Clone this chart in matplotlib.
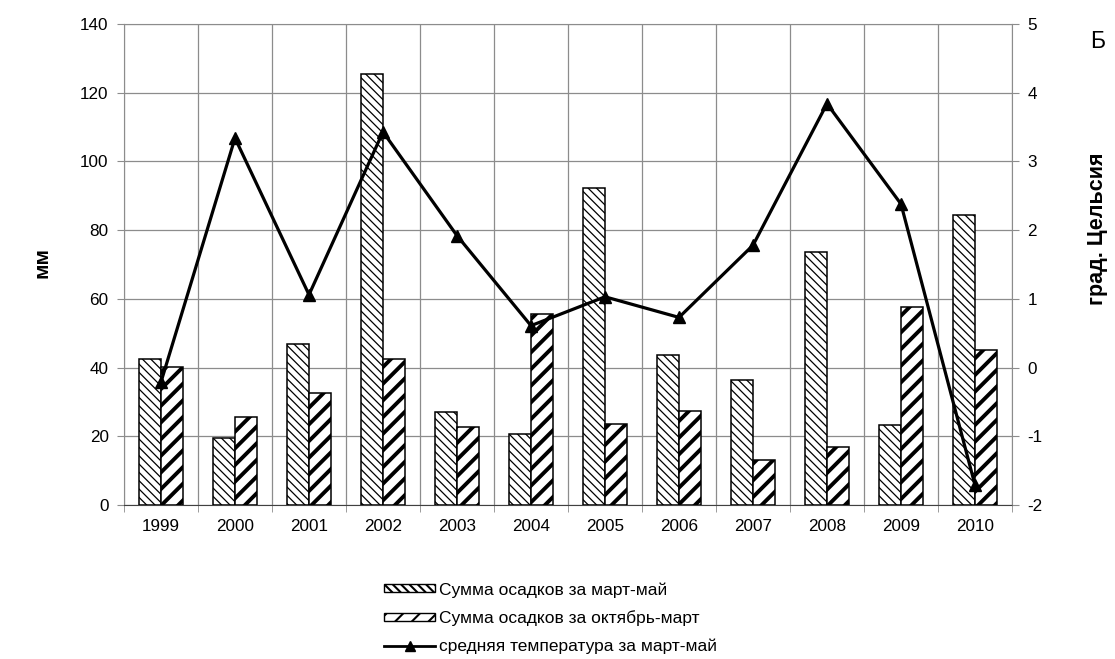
import matplotlib
matplotlib.use("Agg")
import matplotlib.pyplot as plt
import numpy as np
from matplotlib.lines import Line2D
from matplotlib.patches import Patch

plt.rcParams['font.family'] = ['Liberation Sans', 'DejaVu Sans']
plt.rcParams['axes.unicode_minus'] = False

years = ['1999', '2000', '2001', '2002', '2003', '2004', '2005', '2006',
         '2007', '2008', '2009', '2010']
precip_mar_may = [42.6, 19.6, 47.0, 125.4, 27.0, 20.7, 92.2, 43.6, 36.4, 73.5, 23.2, 84.4]
precip_oct_mar = [40.3, 25.6, 32.5, 42.6, 22.6, 55.6, 23.6, 27.3, 13.0, 16.9, 57.5, 45.0]
temp_mar_may = [-0.21, 3.34, 1.06, 3.43, 1.92, 0.61, 1.03, 0.73, 1.78, 3.84, 2.38, -1.71]

label_a = 'Сумма осадков за март-май'
label_b = 'Сумма осадков за октябрь-март'
label_t = 'средняя температура за март-май'

fig = plt.figure(figsize=(11.15, 6.59), dpi=100)
ax = fig.add_axes([124 / 1115, 1 - 505 / 659, 888 / 1115, 481 / 659])

x = np.arange(len(years))
w = 0.293
grid_c = '#8c8c8c'
tick_fs = 12.3

plt.rcParams['hatch.linewidth'] = 0.9
bars_a = ax.bar(x - w / 2, precip_mar_may, w, facecolor='white', edgecolor='black',
                linewidth=1.1, hatch='\\\\\\\\', zorder=3)
plt.rcParams['hatch.linewidth'] = 2.8
bars_b = ax.bar(x + w / 2, precip_oct_mar, w, facecolor='white', edgecolor='black',
                linewidth=1.1, hatch='//', zorder=3)
for b in bars_a:
    if hasattr(b, 'set_hatch_linewidth'):
        b.set_hatch_linewidth(0.9)
for b in bars_b:
    if hasattr(b, 'set_hatch_linewidth'):
        b.set_hatch_linewidth(2.8)

ax.set_xlim(-0.5, len(years) - 0.5)
ax.set_ylim(0, 140)
ax.set_yticks(np.arange(0, 141, 20))
ax.set_xticks(x)
ax.set_xticklabels(years)
ax.set_xticks(np.arange(-0.5, len(years), 1.0), minor=True)
ax.tick_params(axis='x', which='major', length=0, pad=10, labelsize=tick_fs)
ax.tick_params(axis='x', which='minor', length=5, color=grid_c)
ax.tick_params(axis='y', length=5, color=grid_c, labelsize=tick_fs, pad=6)
ax.grid(axis='y', color=grid_c, linewidth=0.9, zorder=0)
ax.grid(axis='x', which='minor', color=grid_c, linewidth=0.9, zorder=0)
ax.set_axisbelow(True)
for s in ['left', 'right', 'top']:
    ax.spines[s].set_color(grid_c)
ax.spines['bottom'].set_color('#404040')

ax2 = ax.twinx()
ax2.plot(x, temp_mar_may, color='black', linewidth=2.3, marker='^', markersize=9, zorder=5)
ax2.set_ylim(-2, 5)
ax2.set_yticks(np.arange(-2, 6, 1))
ax2.tick_params(axis='y', length=5, color=grid_c, labelsize=tick_fs, pad=6)
for s in ['left', 'right', 'top', 'bottom']:
    ax2.spines[s].set_visible(False)

fig.text(42 / 1115, 1 - 263 / 659, 'мм', rotation=90, fontsize=15, fontweight='bold',
         ha='center', va='center')
fig.text(1097 / 1115, 1 - 229 / 659, 'град. Цельсия', rotation=90, fontsize=15.5,
         fontweight='bold', ha='center', va='center')
fig.text(1098 / 1115, 1 - 42 / 659, 'Б', fontsize=16.5, ha='center', va='center')

handles = [Patch(facecolor='white', edgecolor='black', hatch='\\\\\\\\', linewidth=1.0),
           Patch(facecolor='white', edgecolor='black', hatch='//', linewidth=1.0),
           Line2D([0], [0], color='black', linewidth=2.0, marker='^', markersize=7)]
leg = fig.legend(handles, [label_a, label_b, label_t], loc='upper left',
                 bbox_to_anchor=(384 / 1115, 1 - 582 / 659), frameon=False,
                 fontsize=12.5, handlelength=2.95, handleheight=0.35, handletextpad=0.2,
                 labelspacing=0.72, borderpad=0, borderaxespad=0)
for h in leg.legend_handles[:2]:
    if hasattr(h, 'set_hatch_linewidth'):
        h.set_hatch_linewidth(1.5)

fig.savefig('out.png', dpi=100)
